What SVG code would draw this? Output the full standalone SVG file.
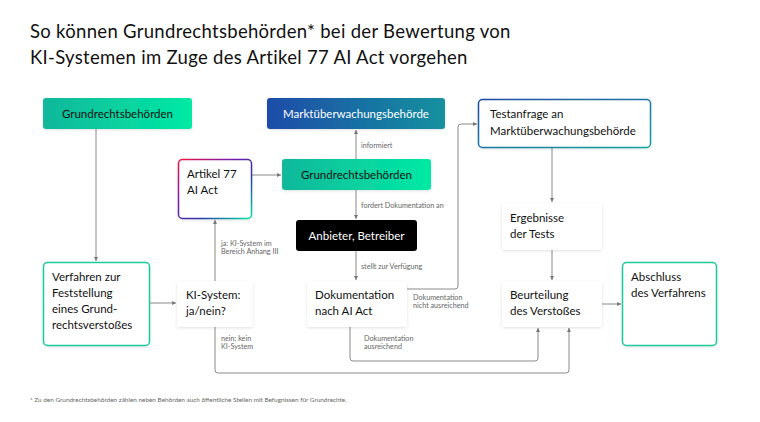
<svg xmlns="http://www.w3.org/2000/svg" width="760" height="422" viewBox="0 0 760 422">
<defs>
<linearGradient id="gGreen" x1="0" y1="0" x2="1" y2="0"><stop offset="0" stop-color="#12b79a"/><stop offset="1" stop-color="#00eaa4"/></linearGradient>
<linearGradient id="gBlue" x1="0" y1="0" x2="1" y2="0"><stop offset="0" stop-color="#1f4ca8"/><stop offset="1" stop-color="#13919f"/></linearGradient>
<linearGradient id="gArt" x1="0" y1="0" x2="1" y2="1"><stop offset="0" stop-color="#f0163c"/><stop offset="0.35" stop-color="#7a1bb0"/><stop offset="0.65" stop-color="#2b3aa8"/><stop offset="1" stop-color="#00e3a0"/></linearGradient>
<linearGradient id="gTest" x1="0" y1="0" x2="1" y2="1"><stop offset="0" stop-color="#1e4aa6"/><stop offset="1" stop-color="#14a3a0"/></linearGradient>
<filter id="sh" x="-20%" y="-20%" width="140%" height="150%"><feDropShadow dx="0" dy="1" stdDeviation="1.5" flood-color="#000" flood-opacity="0.12"/></filter>
<marker id="ar" viewBox="0 0 6 6" refX="5" refY="3" markerWidth="5" markerHeight="5" orient="auto"><path d="M0,0.5 L5,3 L0,5.5z" fill="#777"/></marker>
</defs>
<style>
text{font-family:"Lato","Noto Sans","Liberation Sans",sans-serif;fill:#111}
.n{font-size:11.5px}
.w{fill:#fff}
.l{font-size:7.2px;fill:#666}
.c path{fill:none;stroke:#8a8a8a;stroke-width:1;marker-end:url(#ar)}
.box{fill:#fff;filter:url(#sh)}
</style>
<rect width="760" height="422" fill="#fff"/>
<text x="30" y="38" font-size="18.5" letter-spacing="0.3">So können Grundrechtsbehörden* bei der Bewertung von</text>
<text x="30" y="64" font-size="18.5" letter-spacing="0.3">KI-Systemen im Zuge des Artikel 77 AI Act vorgehen</text>

<g class="c">
<path d="M96,129 V261"/>
<path d="M150,303 H176"/>
<path d="M215,281 V220"/>
<path d="M252,175 H281"/>
<path d="M356,159 V130"/>
<path d="M356,190 V219"/>
<path d="M356,251 V280"/>
<path d="M407,289 H455 Q458,289 458,286 V127 Q458,124 461,124 H477"/>
<path d="M350,327 V358 Q350,361 353,361 H535 Q538,361 538,358 V328"/>
<path d="M215,327 V370 Q215,373 218,373 H566 Q569,373 569,370 V328"/>
<path d="M552,148 V202"/>
<path d="M552,250 V280"/>
<path d="M602,304 H621"/>
</g>
<g class="l-g">
<text class="l" x="361" y="148">informiert</text>
<text class="l" x="361" y="208">fordert Dokumentation an</text>
<text class="l" x="361" y="269">stellt zur Verfügung</text>
<text class="l" x="221" y="246">ja: KI-System im</text>
<text class="l" x="221" y="254">Bereich Anhang III</text>
<text class="l" x="221" y="341">nein: kein</text>
<text class="l" x="221" y="349">KI-System</text>
<text class="l" x="413" y="300">Dokumentation</text>
<text class="l" x="413" y="308">nicht ausreichend</text>
<text class="l" x="364" y="341">Dokumentation</text>
<text class="l" x="364" y="349">ausreichend</text>
</g>

<g id="n-grund1"><rect x="43" y="98" width="149" height="31" rx="3" fill="url(#gGreen)" filter="url(#sh)"/><text class="n" x="117.5" y="117.5" text-anchor="middle">Grundrechtsbehörden</text></g>
<g id="n-markt"><rect x="267" y="98" width="178" height="31" rx="3" fill="url(#gBlue)" filter="url(#sh)"/><text class="n w" x="356" y="117.5" text-anchor="middle" style="fill:#fff">Marktüberwachungsbehörde</text></g>
<g id="n-artikel"><rect x="178.5" y="159.5" width="73" height="59" rx="4" fill="#fff" stroke="url(#gArt)" stroke-width="1.5" filter="url(#sh)"/><text class="n" x="187" y="178">Artikel 77</text><text class="n" x="187" y="194">AI Act</text></g>
<g id="n-grund2"><rect x="282" y="159" width="149" height="31" rx="3" fill="url(#gGreen)" filter="url(#sh)"/><text class="n" x="356.5" y="178.5" text-anchor="middle">Grundrechtsbehörden</text></g>
<g id="n-anbieter"><rect x="296" y="220" width="121" height="31" rx="3" fill="#000"/><text class="n" x="356.5" y="239.5" text-anchor="middle" style="fill:#fff">Anbieter, Betreiber</text></g>
<g id="n-verfahren"><rect x="43.5" y="262.5" width="106" height="83" rx="4" fill="#fff" stroke="#1ccb9c" stroke-width="1.5" filter="url(#sh)"/><text class="n" x="52" y="281">Verfahren zur</text><text class="n" x="52" y="297">Feststellung</text><text class="n" x="52" y="313">eines Grund-</text><text class="n" x="52" y="329">rechtsverstoßes</text></g>
<g id="n-ki"><rect x="177" y="281" width="76" height="46" rx="3" class="box"/><text class="n" x="186" y="299">KI-System:</text><text class="n" x="186" y="315">ja/nein?</text></g>
<g id="n-doku"><rect x="307" y="281" width="100" height="46" rx="3" class="box"/><text class="n" x="315" y="299">Dokumentation</text><text class="n" x="315" y="315">nach AI Act</text></g>
<g id="n-test"><rect x="478.5" y="99.5" width="172" height="48" rx="4" fill="#fff" stroke="url(#gTest)" stroke-width="1.5" filter="url(#sh)"/><text class="n" x="490" y="118">Testanfrage an</text><text class="n" x="490" y="135">Marktüberwachungsbehörde</text></g>
<g id="n-ergeb"><rect x="502" y="203" width="100" height="47" rx="3" class="box"/><text class="n" x="510" y="222">Ergebnisse</text><text class="n" x="510" y="238">der Tests</text></g>
<g id="n-beurt"><rect x="502" y="281" width="100" height="46" rx="3" class="box"/><text class="n" x="510" y="299">Beurteilung</text><text class="n" x="510" y="315">des Verstoßes</text></g>
<g id="n-abschluss"><rect x="622.5" y="262.5" width="94" height="83" rx="4" fill="#fff" stroke="#1ccb9c" stroke-width="1.5" filter="url(#sh)"/><text class="n" x="631" y="281">Abschluss</text><text class="n" x="631" y="297">des Verfahrens</text></g>

<text x="30" y="402" font-size="6.4" style="fill:#666">* Zu den Grundrechtsbehörden zählen neben Behörden auch öffentliche Stellen mit Befugnissen für Grundrechte.</text>
</svg>
